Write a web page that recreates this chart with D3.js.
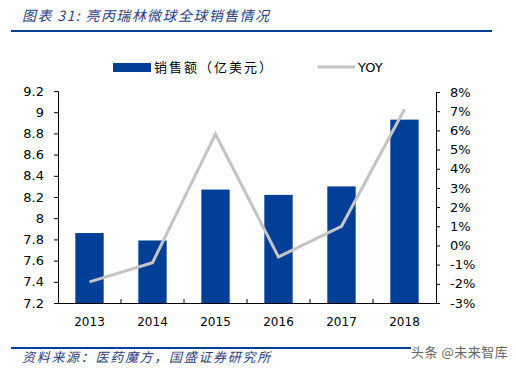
<!DOCTYPE html>
<html>
<head>
<meta charset="utf-8">
<script src="https://cdn.jsdelivr.net/npm/d3@7"></script>
<style>
  body { margin: 0; background: #fff; }
  svg text { font-family: "DejaVu Sans", Verdana, sans-serif; }
  .cjk { font-family: "Noto Sans CJK SC", sans-serif; }
</style>
</head>
<body>
<div id="chart"></div>
<script>
// data
const years = ["2013", "2014", "2015", "2016", "2017", "2018"];
const sales = [7.86, 7.79, 8.27, 8.22, 8.30, 8.93];
const yoy = [-1.9, -0.9, 5.8, -0.6, 1.0, 7.1];
const leftTicks = [7.2, 7.4, 7.6, 7.8, 8, 8.2, 8.4, 8.6, 8.8, 9, 9.2];
const rightTicks = [-3, -2, -1, 0, 1, 2, 3, 4, 5, 6, 7, 8];

const width = 516, height = 371;
const blue = "#003f98";
const gray = "#c4c4c4";

const svg = d3.select("#chart").append("svg")
  .attr("width", width)
  .attr("height", height);

// title + rules
svg.append("text")
  .attr("class", "cjk")
  .attr("x", 22).attr("y", 21)
  .attr("font-size", 14)
  .attr("font-style", "italic")
  .attr("letter-spacing", 1.4)
  .attr("fill", "#2b3f7f")
  .text("图表 31:  亮丙瑞林微球全球销售情况");

svg.append("rect").attr("x", 11).attr("y", 30).attr("width", 481).attr("height", 2).attr("fill", blue);
svg.append("rect").attr("x", 11).attr("y", 347).attr("width", 400).attr("height", 2).attr("fill", blue);

svg.append("text")
  .attr("class", "cjk")
  .attr("x", 22).attr("y", 362)
  .attr("font-size", 13)
  .attr("font-style", "italic")
  .attr("letter-spacing", 1.7)
  .attr("fill", "#2b3f7f")
  .text("资料来源：医药魔方，国盛证券研究所");

svg.append("text")
  .attr("class", "cjk")
  .attr("x", 411).attr("y", 357)
  .attr("font-size", 13)
  .attr("letter-spacing", 0.5)
  .attr("fill", "#666")
  .text("头条 @未来智库");

// scales
const x = d3.scaleBand().domain(years).range([58, 436]).paddingInner(0.55).paddingOuter(0.275);
const xt = d3.scaleBand().domain(years).range([58, 436]);
const yL = d3.scaleLinear().domain([7.2, 9.2]).range([303, 91]);
const yR = d3.scaleLinear().domain([-3, 8]).range([303, 92]);

// bars
svg.append("g").selectAll("rect").data(sales).join("rect")
  .attr("x", (d, i) => x(years[i]))
  .attr("y", d => yL(d))
  .attr("width", x.bandwidth())
  .attr("height", d => yL(7.2) - yL(d))
  .attr("fill", blue);

// axes
const axL = svg.append("g").attr("transform", "translate(58,0)")
  .call(d3.axisLeft(yL).tickValues(leftTicks).tickSize(4).tickFormat(d3.format("")));
const axR = svg.append("g").attr("transform", "translate(436,0)")
  .call(d3.axisRight(yR).tickValues(rightTicks).tickSize(4).tickFormat(d => d + "%"));
const axB = svg.append("g").attr("transform", "translate(0,303)")
  .call(d3.axisBottom(xt).tickSize(0).tickPadding(14));

// tick marks between categories on the x axis
svg.append("g").selectAll("line").data(years.slice(1)).join("line")
  .attr("x1", d => xt(d)).attr("x2", d => xt(d))
  .attr("y1", 303).attr("y2", 299)
  .attr("stroke", "#000");

[axL, axR, axB].forEach(g => {
  g.selectAll("path").attr("stroke", "#000");
  g.selectAll("line").attr("stroke", "#000");
  g.selectAll("text").attr("fill", "#000").attr("font-family", "DejaVu Sans");
});
axL.selectAll("text").attr("font-size", 13).attr("x", -14);
axR.selectAll("text").attr("font-size", 13).attr("x", 14);
axB.selectAll("text").attr("font-size", 12);

// yoy line
const line = d3.line()
  .x((d, i) => xt(years[i]) + xt.bandwidth() / 2)
  .y(d => yR(d));
svg.append("path")
  .datum(yoy)
  .attr("d", line)
  .attr("fill", "none")
  .attr("stroke", gray)
  .attr("stroke-width", 3);

// legend
svg.append("rect").attr("x", 113).attr("y", 63).attr("width", 38).attr("height", 9).attr("fill", blue);
svg.append("text").attr("class", "cjk")
  .attr("x", 154).attr("y", 72)
  .attr("font-size", 13)
  .attr("letter-spacing", 2)
  .text("销售额（亿美元）");
svg.append("line").attr("x1", 318).attr("x2", 355).attr("y1", 67).attr("y2", 67)
  .attr("stroke", gray).attr("stroke-width", 3);
svg.append("text")
  .attr("x", 358).attr("y", 72)
  .attr("font-size", 13)
  .text("YOY");
</script>
</body>
</html>
